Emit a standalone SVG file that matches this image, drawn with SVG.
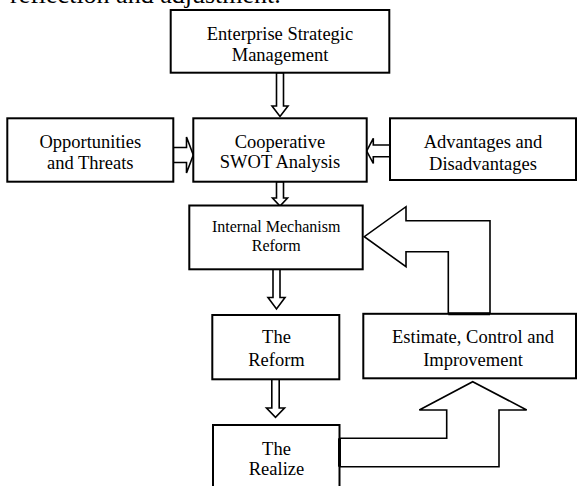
<svg xmlns="http://www.w3.org/2000/svg" width="577" height="486" viewBox="0 0 577 486">
<style>
.box{fill:#fff;stroke:#000;stroke-width:2}
.arr{fill:#fff;stroke:#000;stroke-width:1.6;stroke-linejoin:miter}
.t{font-family:"Liberation Serif","Times New Roman",serif;font-size:18.5px;fill:#000;text-anchor:middle}
.s{font-size:16px}
</style>
<rect width="577" height="486" fill="#fff"/>
<text x="10" y="3" style="font-family:'Liberation Serif',serif;font-size:26px;fill:#000">reflection and adjustment.</text>
<g id="connectors">
<polygon class="arr" points="276.5,72.7 283.5,72.7 283.5,106 288,106 280,116.5 272,106 276.5,106"/>
<polygon class="arr" points="276.5,181.7 283.5,181.7 283.5,198 287.5,198 280,206 272.5,198 276.5,198"/>
<polygon class="arr" points="173.3,147.5 186.5,147.5 186.5,137 193.3,155 186.5,173 186.5,162.5 173.3,162.5"/>
<polygon class="arr" points="390,145 373.3,145 373.3,138.3 366.7,151 373.3,163.5 373.3,156.7 390,156.7"/>
<polygon class="arr" points="273,269.3 280,269.3 280,297.5 285,297.5 276.5,309 268,297.5 273,297.5"/>
<polygon class="arr" points="271.8,379.3 279.2,379.3 279.2,408 284.5,408 275.5,417.3 266.5,408 271.8,408"/>
<polygon class="arr" points="448.3,313.8 448.3,251.7 406,251.7 406,266.7 364.3,236.7 406,206.7 406,220.7 490,220.7 490,313.8"/>
<polygon class="arr" points="339.5,438.3 446.7,438.3 446.7,410 419.3,410 472.7,381.7 526.7,410 499,410 499,466.7 339.5,466.7"/>
</g>
<g id="esm"><rect class="box" x="170.7" y="10" width="218.6" height="62.7"/><text class="t" x="280" y="39.5">Enterprise Strategic</text><text class="t" x="280" y="60.5">Management</text></g>
<g id="opp"><rect class="box" x="7.3" y="118.3" width="166" height="63.4"/><text class="t" x="90.3" y="148">Opportunities</text><text class="t" x="90.3" y="169">and Threats</text></g>
<g id="coop"><rect class="box" x="193.3" y="118.3" width="173.4" height="63.4"/><text class="t" x="280" y="148">Cooperative</text><text class="t" x="280" y="168">SWOT Analysis</text></g>
<g id="adv"><rect class="box" x="390" y="118.3" width="186" height="61.7"/><text class="t" x="483" y="148">Advantages and</text><text class="t" x="483" y="169.5">Disadvantages</text></g>
<g id="imr"><rect class="box" x="189.3" y="205.5" width="173.4" height="63.8"/><text class="t s" x="276.2" y="232">Internal Mechanism</text><text class="t s" x="276.2" y="250.5">Reform</text></g>
<g id="reform"><rect class="box" x="212.3" y="315" width="127" height="64.3"/><text class="t" x="276.5" y="343">The</text><text class="t" x="276.5" y="365.5">Reform</text></g>
<g id="estimate"><rect class="box" x="363.3" y="313.8" width="212.7" height="64.5"/><text class="t" x="473" y="343">Estimate, Control and</text><text class="t" x="473" y="365.5">Improvement</text></g>
<g id="realize"><rect class="box" x="213" y="425" width="126.5" height="70"/><text class="t" x="276.5" y="455">The</text><text class="t" x="276.5" y="475">Realize</text></g>
<line x1="339.5" y1="438.3" x2="339.5" y2="466.7" stroke="#000" stroke-width="3"/>
<line x1="448.3" y1="313.8" x2="490" y2="313.8" stroke="#000" stroke-width="3"/>
</svg>
